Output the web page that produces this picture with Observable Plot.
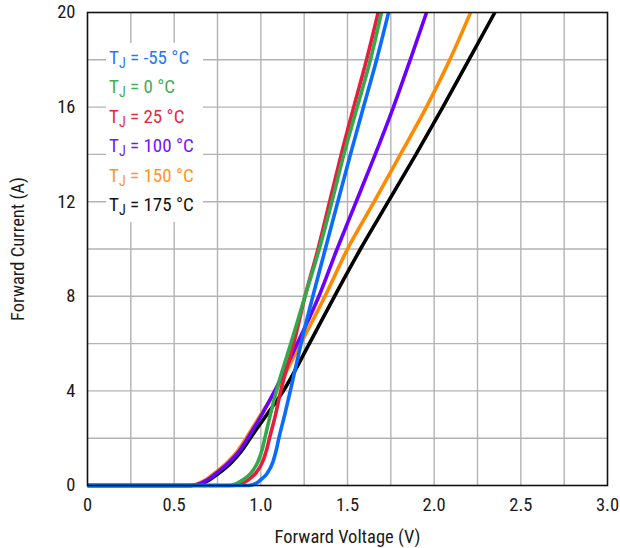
<!DOCTYPE html>
<html>
<head>
<meta charset="utf-8">
<script src="https://cdn.jsdelivr.net/npm/d3@7"></script>
<script src="https://cdn.jsdelivr.net/npm/@observablehq/plot@0.6"></script>
<style>
  html, body { margin: 0; padding: 0; background: #fff; }
  #wrap { position: relative; width: 620px; height: 548px; font-family: "Roboto Condensed", "Liberation Sans Narrow", "DejaVu Sans Condensed", sans-serif; }
  #legend { position: absolute; left: 106px; top: 43px; width: 97px; height: 179px; background: #fff; padding: 0 0 0 3px; box-sizing: border-box; }
  #legend div { font-size: 19px; line-height: 29.4px; height: 29.4px; white-space: nowrap; }
  #legend sub { font-size: 14px; vertical-align: -4px; line-height: 0; }
</style>
</head>
<body>
<div id="wrap"><div id="chart"></div><div id="legend"></div></div>
<script>
// Forward current levels (A) at which voltages were read
const currents = [0, 0, 0.1, 0.25, 0.5, 1, 1.5, 2, 3, 4, 6, 8, 10, 12, 14, 16, 18, 20];
// Forward voltage (V) per junction temperature
const vMinus55 = [0, 0.93, 0.975, 1.0, 1.035, 1.07, 1.089, 1.104, 1.138, 1.17, 1.232, 1.30, 1.372, 1.444, 1.517, 1.592, 1.668, 1.737];
const v0       = [0, 0.82, 0.865, 0.9, 0.94, 0.983, 1.007, 1.023, 1.055, 1.09, 1.173, 1.255, 1.337, 1.41, 1.479, 1.556, 1.632, 1.696];
const v25      = [0, 0.84, 0.895, 0.93, 0.968, 1.01, 1.033, 1.05, 1.085, 1.115, 1.19, 1.255, 1.33, 1.397, 1.464, 1.536, 1.61, 1.677];
const v100     = [0, 0.60, 0.655, 0.695, 0.74, 0.82, 0.88, 0.924, 1.006, 1.08, 1.21, 1.335, 1.44, 1.55, 1.66, 1.765, 1.862, 1.956];
const v150     = [0, 0.59, 0.645, 0.685, 0.73, 0.81, 0.87, 0.915, 1.0, 1.085, 1.23, 1.37, 1.50, 1.654, 1.805, 1.955, 2.09, 2.21];
const v175     = [0, 0.60, 0.665, 0.705, 0.755, 0.835, 0.893, 0.939, 1.035, 1.13, 1.28, 1.425, 1.575, 1.735, 1.895, 2.05, 2.20, 2.35];

const temps = ["-55", "0", "25", "100", "150", "175"];
const lineColors = ["#0a6cff", "#34a84a", "#e81c3e", "#6c00ff", "#ff8a00", "#000000"];
const textColors = ["#1f78ff", "#45ad55", "#e8283f", "#7414ff", "#ff951f", "#111111"];
const drawOrder = ["175", "150", "100", "25", "0", "-55"];

const xTicks = [0, 0.5, 1.0, 1.5, 2.0, 2.5, 3.0];
const yTicks = [0, 4, 8, 12, 16, 20];
const xGrid = [0.25, 0.5, 0.75, 1.0, 1.25, 1.5, 1.75, 2.0, 2.25, 2.5, 2.75];
const yGrid = [2, 4, 6, 8, 10, 12, 14, 16, 18];

const seriesV = {"-55": vMinus55, "0": v0, "25": v25, "100": v100, "150": v150, "175": v175};
const colorOf = Object.fromEntries(temps.map((t, i) => [t, lineColors[i]]));

const fontFam = '"Roboto Condensed", "Liberation Sans Narrow", "DejaVu Sans Condensed", sans-serif';

const lineMarks = drawOrder.map(t => {
  const rows = currents.map((c, i) => ({V: seriesV[t][i], I: c}));
  return Plot.line(rows, {x: "V", y: "I", stroke: colorOf[t], strokeWidth: 3.6, curve: "monotone-x", strokeLinejoin: "round", strokeLinecap: "butt"});
});

const chart = Plot.plot({
  width: 620,
  height: 548,
  marginLeft: 87,
  marginRight: 13,
  marginTop: 12,
  marginBottom: 63,
  x: {domain: [0, 3]},
  y: {domain: [0, 20]},
  style: {fontFamily: fontFam, fontSize: "18px", color: "#1a1a1a", background: "#fff", overflow: "visible"},
  marks: [
    Plot.gridX(xGrid, {stroke: "#b3b3b3", strokeOpacity: 1, strokeWidth: 1.4}),
    Plot.gridY(yGrid, {stroke: "#b3b3b3", strokeOpacity: 1, strokeWidth: 1.4}),
    ...lineMarks,
    Plot.frame({stroke: "#111", strokeWidth: 1.6}),
    Plot.axisX(xTicks, {tickSize: 0, tickPadding: 12, tickFormat: d => d === 0 ? "0" : d.toFixed(1), label: "Forward Voltage (V)", labelAnchor: "center", labelArrow: "none", labelOffset: 57, fontSize: 18.5}),
    Plot.axisY(yTicks, {tickSize: 0, tickPadding: 12, label: "Forward Current (A)", labelAnchor: "center", labelArrow: "none", labelOffset: 77, fontSize: 18.5})
  ]
});
document.getElementById("chart").appendChild(chart);

const legend = document.getElementById("legend");
temps.forEach((t, i) => {
  const row = document.createElement("div");
  row.style.color = textColors[i];
  row.innerHTML = `T<sub>J</sub> = ${t} °C`;
  legend.appendChild(row);
});
</script>
</body>
</html>
